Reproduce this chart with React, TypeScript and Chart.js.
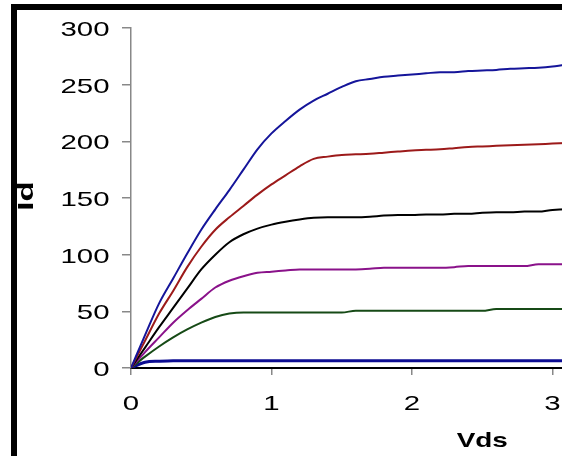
import React, { useEffect, useRef } from 'react';
import { Chart, registerables } from 'chart.js';

Chart.register(...registerables);

// Drain-source voltage (x values shared by every curve)
const vds = [0, 0.1, 0.2, 0.3, 0.4, 0.5, 0.6, 0.7, 0.8, 0.9, 1.0, 1.1, 1.2, 1.3, 1.4, 1.5, 1.6, 1.7, 1.8, 1.9, 2.0, 2.1, 2.2, 2.3, 2.4, 2.5, 2.6, 2.7, 2.8, 2.9, 3.0, 3.1, 3.2];

// Drain current curves, highest gate voltage first
const idCurve6 = [0, 29, 57, 79, 101, 122, 140, 157, 175, 193, 207, 218, 228, 236, 242, 248, 253, 255, 257, 258, 259, 260, 261, 261, 262, 262.5, 263, 264, 264.5, 265, 266, 267.5, 268];
const idCurve5 = [0, 24, 48, 68, 89, 107, 122, 133, 143, 153, 162, 170, 178, 184.5, 186.5, 188, 188.5, 189, 190, 191, 192, 192.5, 193, 194, 195, 195.5, 196, 196.5, 197, 197.5, 198, 198.5, 199];
const idCurve4 = [0, 18, 36, 53, 70, 87, 100, 111, 118, 123, 126.5, 129, 131, 132.5, 133, 133, 133, 133.5, 134.5, 135, 135, 135.5, 135.5, 136, 136, 137, 137.5, 137.5, 138, 138, 139.5, 140, 140];
const idCurve3 = [0, 14, 27, 40, 51, 61, 71, 77, 81, 84, 85, 86, 87, 87, 87, 87, 87, 87.5, 88.5, 88.5, 88.5, 88.5, 88.5, 89, 90, 90, 90, 90, 90, 91.5, 91.5, 91.5, 91.5];
const idCurve2 = [0, 10, 19, 27, 34, 40, 45, 48, 49, 49, 49, 49, 49, 49, 49, 49, 50.5, 50.5, 50.5, 50.5, 50.5, 50.5, 50.5, 50.5, 50.5, 50.5, 52, 52, 52, 52, 52, 52, 52];
const idCurve1 = [0, 5, 6, 6.5, 6.5, 6.5, 6.5, 6.5, 6.5, 6.5, 6.5, 6.5, 6.5, 6.5, 6.5, 6.5, 6.5, 6.5, 6.5, 6.5, 6.5, 6.5, 6.5, 6.5, 6.5, 6.5, 6.5, 6.5, 6.5, 6.5, 6.5, 6.5, 6.5];

const seriesValues = [idCurve6, idCurve5, idCurve4, idCurve3, idCurve2, idCurve1];
const seriesColors = ['#15159a', '#9c1a1a', '#000000', '#8a128a', '#164a16', '#0c0c92'];
const seriesWidths = [2, 2, 2, 2, 2, 3];

const xTitle = 'Vds';
const yTitle = 'Id';

const FONT = '"Liberation Sans", Arial, Helvetica, sans-serif';

const stretchedText = {
  id: 'stretchedText',
  afterDraw(chart: any) {
    const ctx = chart.ctx;
    const xs = chart.scales.x;
    const ys = chart.scales.y;
    const area = chart.chartArea;
    ctx.save();
    ctx.fillStyle = '#000';
    ctx.textBaseline = 'alphabetic';
    ctx.font = `21px ${FONT}`;
    ctx.textAlign = 'right';
    ys.ticks.forEach((t: any) => {
      const py = ys.getPixelForValue(t.value);
      ctx.save();
      ctx.translate(area.left - 21.5, py + 8);
      ctx.scale(1.4, 1);
      ctx.fillText(t.label, 0, 0);
      ctx.restore();
    });
    ctx.textAlign = 'center';
    xs.ticks.forEach((t: any) => {
      const px = xs.getPixelForValue(t.value);
      ctx.save();
      ctx.translate(px, area.bottom + 42);
      ctx.scale(1.4, 1);
      ctx.fillText(t.label, 0, 0);
      ctx.restore();
    });
    ctx.font = `bold 21px ${FONT}`;
    ctx.save();
    ctx.translate((area.left + area.right) / 2, area.bottom + 79);
    ctx.scale(1.33, 1);
    ctx.fillText(xTitle, 0, 0);
    ctx.restore();
    ctx.font = `bold 22px ${FONT}`;
    ctx.save();
    ctx.translate(area.left - 97.7, (area.top + area.bottom) / 2 - 2);
    ctx.rotate(-Math.PI / 2);
    ctx.scale(1.5, 1);
    ctx.fillText(yTitle, 0, 0);
    ctx.restore();
    ctx.restore();
  },
};

export default function App() {
  const ref = useRef<HTMLCanvasElement>(null);

  useEffect(() => {
    if (!ref.current) return;
    const chart = new Chart(ref.current, {
      type: 'line',
      data: {
        datasets: seriesValues.map((vals, i) => ({
          data: vds.map((v, j) => ({ x: v, y: vals[j] })),
          borderColor: seriesColors[i],
          backgroundColor: seriesColors[i],
          borderWidth: seriesWidths[i],
          pointRadius: 0,
          fill: false,
          cubicInterpolationMode: 'monotone' as const,
        })),
      },
      options: {
        responsive: false,
        animation: false,
        devicePixelRatio: 1,
        layout: { padding: { left: 122, right: 66.5, top: 28, bottom: 81 } },
        plugins: { legend: { display: false }, tooltip: { enabled: false } },
        scales: {
          x: {
            type: 'linear',
            min: 0,
            max: 5,
            ticks: { display: false, stepSize: 1 },
            grid: { drawOnChartArea: false, drawTicks: true, tickLength: 7, color: '#888', lineWidth: 1.5 },
            border: { display: true, color: '#000', width: 2 },
          },
          y: {
            type: 'linear',
            min: 0,
            max: 300,
            ticks: { display: false, stepSize: 50 },
            grid: { drawOnChartArea: false, drawTicks: true, tickLength: 9, color: '#888', lineWidth: 1.5 },
            border: { display: true, color: '#888', width: 1.5 },
          },
        },
      },
      plugins: [stretchedText],
    });
    return () => chart.destroy();
  }, []);

  return (
    <div style={{ position: 'fixed', left: 0, top: 0, width: 562, height: 456, overflow: 'hidden', background: '#fff' }}>
      <div
        style={{
          position: 'absolute',
          left: 11,
          top: 4,
          width: 1000,
          height: 1000,
          borderLeft: '6px solid #000',
          borderTop: '6px solid #000',
          boxSizing: 'border-box',
        }}
      />
      <canvas
        ref={ref}
        width={900}
        height={456}
        style={{ position: 'absolute', left: 0, top: 0, width: 900, height: 456 }}
      />
    </div>
  );
}
